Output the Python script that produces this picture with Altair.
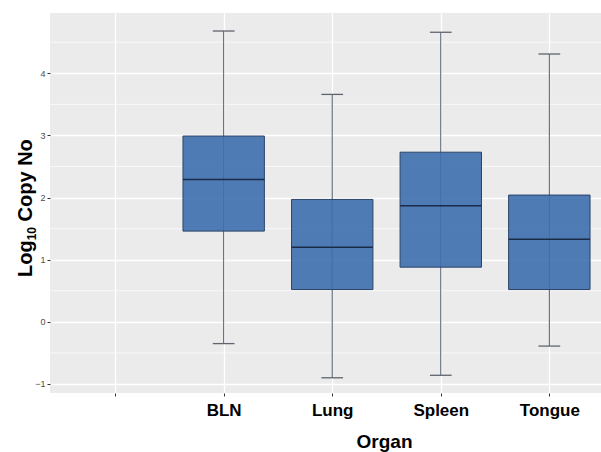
import json
import altair as alt
import pandas as pd

# ---- data ----
tick_labels = ["", "BLN", "Lung", "Spleen", "Tongue"]
organs = ["BLN", "Lung", "Spleen", "Tongue"]
lower = [-0.35, -0.90, -0.86, -0.39]
q1 = [1.46, 0.52, 0.88, 0.52]
median = [2.29, 1.20, 1.87, 1.33]
q3 = [2.99, 1.97, 2.73, 2.04]
upper = [4.68, 3.66, 4.66, 4.31]
y_major = [-1, 0, 1, 2, 3, 4]
y_minor = [-0.5, 0.5, 1.5, 2.5, 3.5, 4.5]

df = pd.DataFrame({
    "organ": organs,
    "pos": [tick_labels.index(o) + 1 for o in organs],
    "lower": lower, "q1": q1, "median": median, "q3": q3, "upper": upper,
})
minor_df = pd.DataFrame({"y": y_minor})

FONT = "Liberation Sans"
xdom = [0.4, 5.476]
ydom = [-1.145, 4.97]

label_expr = json.dumps(tick_labels) + "[datum.value - 1]"

xscale = alt.Scale(domain=xdom, nice=False, zero=False)
yscale = alt.Scale(domain=ydom, nice=False, zero=False)

x_axis = alt.Axis(
    values=[1, 2, 3, 4, 5], labelExpr=label_expr, title="Organ",
    grid=True, gridColor="white", gridWidth=1.3,
    domain=False, ticks=True, tickSize=3, tickColor="#333333", tickWidth=1,
    labelFont=FONT, labelFontSize=17, labelFontWeight="bold", labelColor="black",
    labelPadding=6, labelFlush=False,
    titleFont=FONT, titleFontSize=19, titleFontWeight="bold", titleColor="black",
    titleX=334, titleY=54, titleAlign="center", titleBaseline="alphabetic",
)
y_axis = alt.Axis(
    values=y_major, format="d", title=None,
    grid=True, gridColor="white", gridWidth=1.3,
    domain=False, ticks=True, tickSize=3, tickColor="#333333", tickWidth=1,
    labelFont=FONT, labelFontSize=9, labelColor="#4D4D4D", labelPadding=2,
)

base = alt.Chart(df)

minor = alt.Chart(minor_df).mark_rule(color="white", strokeWidth=0.7).encode(
    y=alt.Y("y:Q", scale=yscale, axis=y_axis),
    x=alt.value(0), x2=alt.value(551),
)

whisker = base.mark_rule(color="#4e5a70", strokeWidth=1).encode(
    x=alt.X("pos:Q", scale=xscale, axis=x_axis),
    y=alt.Y("lower:Q", scale=yscale),
    y2="upper:Q",
)

caps_lo = base.transform_calculate(a="datum.pos - 0.1", b="datum.pos + 0.1").mark_rule(
    color="#5f646e", strokeWidth=1.3
).encode(x=alt.X("a:Q", scale=xscale), x2="b:Q", y=alt.Y("lower:Q", scale=yscale))

caps_hi = base.transform_calculate(a="datum.pos - 0.1", b="datum.pos + 0.1").mark_rule(
    color="#5f646e", strokeWidth=1.3
).encode(x=alt.X("a:Q", scale=xscale), x2="b:Q", y=alt.Y("upper:Q", scale=yscale))

box = base.transform_calculate(a="datum.pos - 0.375", b="datum.pos + 0.375").mark_bar(
    fill="#3E6FAE", fillOpacity=0.9, stroke="#2c4468", strokeWidth=1
).encode(
    x=alt.X("a:Q", scale=xscale), x2="b:Q",
    y=alt.Y("q1:Q", scale=yscale), y2="q3:Q",
)

med = base.transform_calculate(a="datum.pos - 0.375", b="datum.pos + 0.375").mark_rule(
    color="#1b2b47", strokeWidth=1.5
).encode(
    x=alt.X("a:Q", scale=xscale), x2="b:Q",
    y=alt.Y("median:Q", scale=yscale),
)

# y-axis title with a real subscript, built from three rotated text pieces
TS = 20
Y0 = 264
title_main = alt.Chart(pd.DataFrame({"t": ["Log"]})).mark_text(
    angle=270, align="left", baseline="alphabetic", font=FONT, fontSize=TS,
    fontWeight="bold", color="black"
).encode(text="t:N", x=alt.value(-18), y=alt.value(Y0))
title_sub = alt.Chart(pd.DataFrame({"t": ["10"]})).mark_text(
    angle=270, align="left", baseline="alphabetic", font=FONT, fontSize=12,
    fontWeight="bold", color="black"
).encode(text="t:N", x=alt.value(-14), y=alt.value(Y0 - 36.7))
title_rest = alt.Chart(pd.DataFrame({"t": ["Copy No"]})).mark_text(
    angle=270, align="left", baseline="alphabetic", font=FONT, fontSize=TS,
    fontWeight="bold", color="black"
).encode(text="t:N", x=alt.value(-18), y=alt.value(Y0 - 36.7 - 13.3 - 5.6))

chart = alt.layer(
    minor, whisker, caps_lo, caps_hi, box, med, title_main, title_sub, title_rest
).properties(
    width=551, height=380,
    autosize=alt.AutoSizeParams(type="none"),
    padding={"left": 50, "top": 13, "right": 0, "bottom": 59},
).configure(
    background="white",
    view=alt.ViewConfig(fill="#EBEBEB", strokeWidth=0),
)

chart.save("out.html", embed_options={"renderer": "svg", "actions": False})
